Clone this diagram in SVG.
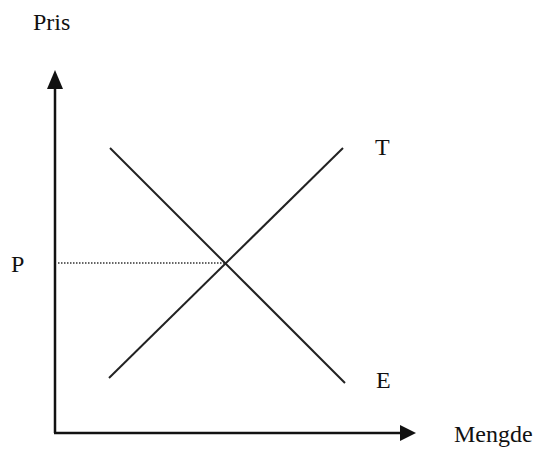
<svg xmlns="http://www.w3.org/2000/svg" width="539" height="451" viewBox="0 0 539 451">
<style>
.axis{stroke:#111;stroke-width:2.5;fill:none}
.curve{stroke:#222;stroke-width:2;fill:none}
.dot{stroke:#333;stroke-width:1.5;stroke-dasharray:1.5 1.5;fill:none}
</style>
<rect width="539" height="451" fill="#fff"/>
<g id="connectors">
<path class="axis" d="M55,433 V86"/>
<path class="axis" d="M54,433 H402"/>
<polygon points="55,70 47,89 63,89" fill="#111"/>
<polygon points="416,433 400,425 400,441" fill="#111"/>
<line class="dot" x1="58" y1="263" x2="225" y2="263"/>
</g>
<g font-family="Liberation Serif, Times New Roman, serif" font-size="24" fill="#111">
<g id="demand"><line class="curve" x1="110" y1="148" x2="345" y2="383"/><text x="376" y="388">E</text></g>
<g id="supply"><line class="curve" x1="109" y1="378" x2="343" y2="148"/><text x="375" y="155">T</text></g>
<g id="pris"><text x="33" y="30">Pris</text></g>
<g id="p"><text x="11" y="272">P</text></g>
<g id="mengde"><text x="454" y="442">Mengde</text></g>
</g>
</svg>
